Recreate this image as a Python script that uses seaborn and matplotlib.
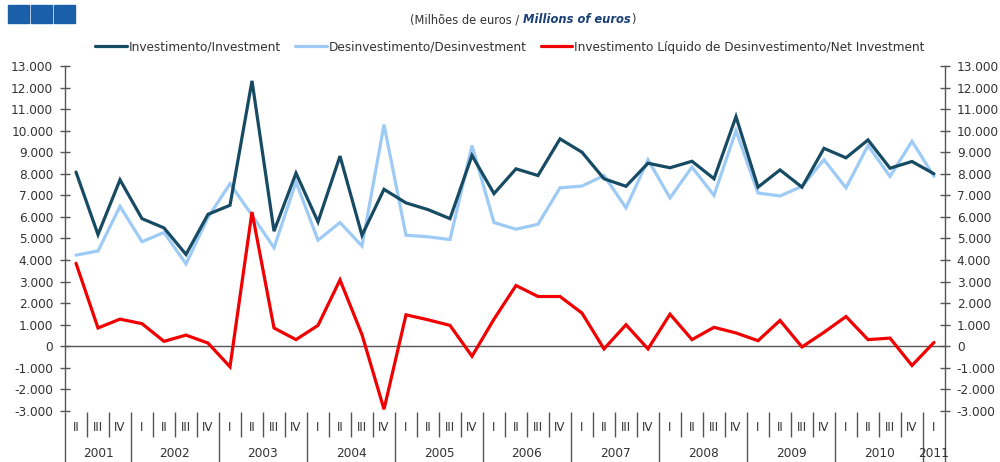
import numpy as np
import pandas as pd
import matplotlib
matplotlib.use('Agg')
import matplotlib.pyplot as plt
from matplotlib.patches import Rectangle
from matplotlib.ticker import FuncFormatter
import seaborn as sns

# quarters 2001 II .. 2011 I
roman = ['I', 'II', 'III', 'IV']
periods = [(y, q) for y in range(2001, 2012) for q in roman][1:41]
labels = [f'{y} {q}' for y, q in periods]

series_names = ['Investimento/Investment',
                'Desinvestimento/Desinvestment',
                'Investimento Líquido de Desinvestimento/Net Investment']

investment = [8080, 5180, 7720, 5920, 5490, 4260, 6120, 6540,
              12310, 5340, 8030, 5770, 8820, 5150, 7280, 6650,
              6340, 5920, 8850, 7080, 8230, 7920, 9620, 9000,
              7770, 7420, 8490, 8280, 8580, 7770, 10650, 7380,
              8180, 7380, 9180, 8740, 9570, 8260, 8570, 8000]
disinvestment = [4230, 4420, 6490, 4850, 5280, 3820, 5980, 7540,
                 6080, 4570, 7620, 4920, 5740, 4650, 10280, 5150,
                 5080, 4950, 9310, 5740, 5430, 5660, 7350, 7430,
                 7920, 6420, 8650, 6880, 8310, 7000, 10000, 7110,
                 6970, 7420, 8650, 7350, 9310, 7880, 9510, 7880]
net = [3850, 850, 1260, 1050, 230, 520, 150, -950,
       6230, 850, 310, 970, 3080, 540, -2920, 1460,
       1230, 970, -460, 1260, 2820, 2310, 2310, 1540,
       -120, 1000, -120, 1490, 310, 880, 620, 260,
       1200, -30, 650, 1380, 310, 380, -890, 180]

colors = ['#174a63', '#9dcbf5', '#f00000']

df = pd.DataFrame({
    'periodo': labels * 3,
    'valor': investment + disinvestment + net,
    'serie': [series_names[0]] * 40 + [series_names[1]] * 40 + [series_names[2]] * 40,
})

sns.set_style('white')
plt.rcParams['font.family'] = ['DejaVu Sans']
grey = '#555555'
txt = '#333333'

fig = plt.figure(figsize=(10, 4.62), dpi=100)
ax = fig.add_axes([0.065, 0.1104, 0.88, 0.7468])

sns.lineplot(data=df, x='periodo', y='valor', hue='serie', hue_order=series_names,
             palette=colors, linewidth=2.3, sort=False, ax=ax)
for line, z in zip(ax.lines, [3, 2, 4]):
    line.set_zorder(z)
    line.set_solid_joinstyle('miter')

ax.set_xlim(-0.5, 39.5)
ax.set_ylim(-3000, 13000)
ax.set_xlabel('')
ax.set_ylabel('')

# y axis both sides
ax.set_yticks(np.arange(-3000, 13001, 1000))
ax.yaxis.set_major_formatter(FuncFormatter(lambda v, p: f'{v:,.0f}'.replace(',', '.')))
ax.tick_params(axis='y', left=True, right=True, labelleft=True, labelright=True,
               direction='inout', length=7, width=1, color=grey, pad=5,
               labelsize=8.7, labelcolor=txt)
for s in ['left', 'right']:
    ax.spines[s].set_color(grey)
    ax.spines[s].set_linewidth(1)
ax.spines['top'].set_visible(False)
ax.spines['bottom'].set_position(('data', 0))
ax.spines['bottom'].set_color(grey)
ax.spines['bottom'].set_linewidth(1)

# small ticks on the zero line at quarter boundaries
bounds = np.arange(-0.5, 40, 1)
ax.set_xticks(bounds, labels=[''] * len(bounds))
ax.tick_params(axis='x', direction='out', length=4, width=1, color=grey)

# quarter / year labels below the plot
tr = ax.get_xaxis_transform()
for i, (y, q) in enumerate(periods):
    ax.text(i, -0.049, q, transform=tr, ha='center', va='center',
            fontsize=8.5, color=txt)
years = [p[0] for p in periods]
year_starts = [i for i in range(40) if i == 0 or years[i] != years[i - 1]]
short = [b for b in bounds if (b + 0.5) not in year_starts and b < 39]
ax.vlines(short, -0.003, -0.075, transform=tr, colors=grey, lw=1, clip_on=False)
long_b = [s - 0.5 for s in year_starts] + [39.5]
ax.vlines(long_b, -0.003, -0.16, transform=tr, colors=grey, lw=1, clip_on=False)
for k, s in enumerate(year_starts):
    e = year_starts[k + 1] if k + 1 < len(year_starts) else 40
    ax.text((s + e - 1) / 2, -0.122, str(years[s]), transform=tr, ha='center',
            va='center', fontsize=8.7, color=txt)

# legend
sns.move_legend(ax, 'center', bbox_to_anchor=(0.51, 0.898), bbox_transform=fig.transFigure,
                ncol=3, frameon=False, title=None, handlelength=2.6, handletextpad=0.15,
                columnspacing=1.2, fontsize=8.7)
for t in ax.get_legend().get_texts():
    t.set_color(txt)
for h in ax.get_legend().get_lines():
    h.set_linewidth(2.3)

# title
t1 = fig.text(0.41, 0.957, '(Milhões de euros / ', ha='left', va='center',
              fontsize=8.3, color=txt)
fig.canvas.draw()
x2 = t1.get_window_extent().x1 / fig.bbox.width
t2 = fig.text(x2, 0.957, 'Millions of euros', ha='left', va='center', fontsize=8.3,
              color='#1a3f7a', fontweight='bold', fontstyle='italic')
fig.canvas.draw()
x3 = t2.get_window_extent().x1 / fig.bbox.width
fig.text(x3, 0.957, ')', ha='left', va='center', fontsize=8.3, color=txt)

# logo squares
for x0 in [8, 31, 54]:
    fig.add_artist(Rectangle((x0 / 1000, 1 - 23 / 462), 21 / 1000, 18 / 462,
                             transform=fig.transFigure, color='#1b5fa8'))

fig.savefig('out.png', dpi=100)
